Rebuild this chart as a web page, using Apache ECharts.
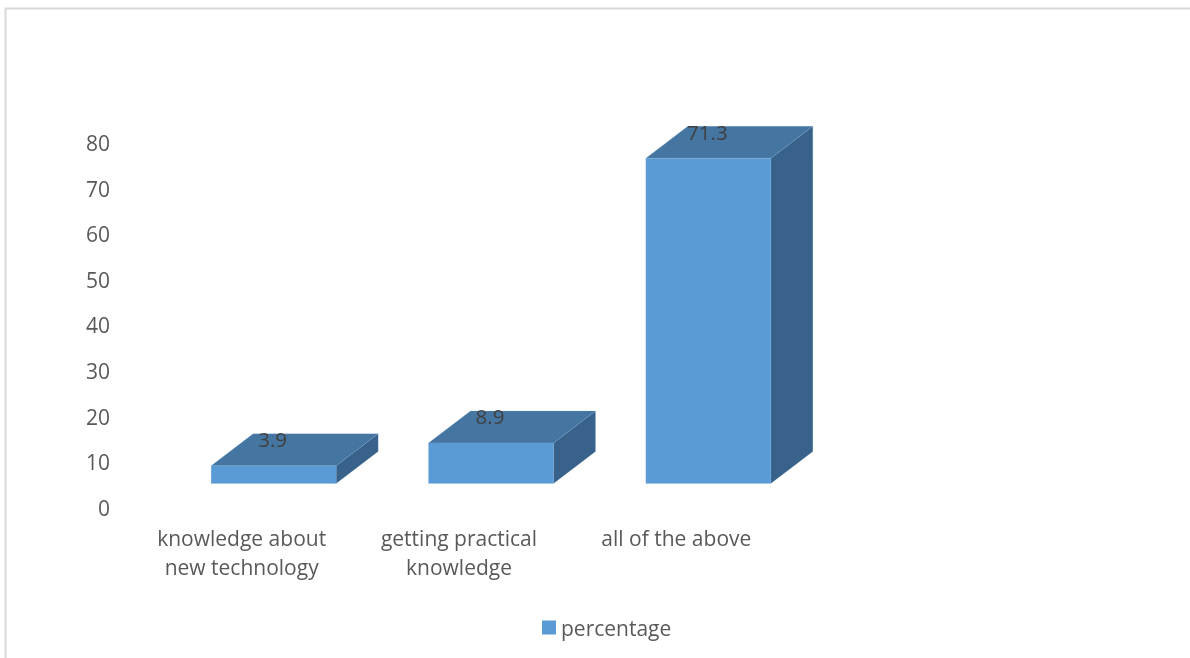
<!DOCTYPE html>
<html><head><meta charset="utf-8">
<style>html,body{margin:0;padding:0;background:#fff}#c{width:1190px;height:658px}</style>
<script src="https://cdn.jsdelivr.net/npm/echarts@6/dist/echarts.min.js"></script>
</head><body><div id="c"></div>
<script>
const categories = ['knowledge about\nnew technology', 'getting practical\nknowledge', 'all of the above'];
const percentage = [3.9, 8.9, 71.3];
const yTicks = {min: 0, max: 80, interval: 10};
const FONT = '"Open Sans", "Noto Sans", sans-serif';
const FRONT = '#5B9BD5', TOP = '#4575A1', SIDE = '#38628A', EDGE = '#7FB0DE';
const SHIFT_X = 32, SHIFT_Y = -26.5, DX = 42, DY = -32, BAR_W = 125;

function renderBar(params, api) {
  const i = api.value(0), v = api.value(1);
  const t = api.coord([i, v]), b = api.coord([i, 0]);
  const x0 = t[0] + SHIFT_X - BAR_W / 2, x1 = x0 + BAR_W;
  const yT = t[1] + SHIFT_Y, yB = b[1] + SHIFT_Y;
  const edge = {stroke: EDGE, lineWidth: 0.5, strokeOpacity: 0.35};
  return {type: 'group', children: [
    {type: 'polygon', shape: {points: [[x1, yT], [x1 + DX, yT + DY], [x1 + DX, yB + DY], [x1, yB]]},
      style: Object.assign({fill: SIDE}, edge)},
    {type: 'polygon', shape: {points: [[x0, yT], [x0 + DX, yT + DY], [x1 + DX, yT + DY], [x1, yT]]},
      style: Object.assign({fill: TOP}, edge)},
    {type: 'rect', shape: {x: x0, y: yT, width: BAR_W, height: yB - yT},
      style: Object.assign({fill: FRONT}, edge)},
    {type: 'text', x: (x0 + x1) / 2 - 1, y: yT - 24.5,
      style: {text: String(v), fill: '#404040', font: '20.5px ' + FONT, align: 'center', verticalAlign: 'middle'}}
  ]};
}

const chart = echarts.init(document.getElementById('c'));
chart.setOption({
  animation: false,
  backgroundColor: '#ffffff',
  grid: {left: 133, top: 145, width: 652, height: 365, containLabel: false},
  xAxis: {type: 'category', data: categories,
    axisLine: {show: false}, axisTick: {show: false}, splitLine: {show: false},
    axisLabel: {color: '#595959', fontFamily: FONT, fontSize: 21, lineHeight: 29, margin: 16, interval: 0, hideOverlap: false}},
  yAxis: {type: 'value', min: yTicks.min, max: yTicks.max, interval: yTicks.interval,
    axisLine: {show: false}, axisTick: {show: false}, splitLine: {show: false},
    axisLabel: {color: '#595959', fontFamily: FONT, fontSize: 21, margin: 23}},
  legend: {left: 537, top: 615, itemWidth: 14, itemHeight: 14, itemGap: 6,
    icon: 'rect', data: ['percentage'],
    formatter: '{a|{name}}',
    textStyle: {rich: {a: {color: '#595959', fontFamily: FONT, fontSize: 21, padding: [6, 0, 0, 0]}}}},
  series: [{type: 'custom', name: 'percentage', renderItem: renderBar,
    itemStyle: {color: FRONT}, clip: false,
    encode: {x: 0, y: 1},
    data: percentage.map((v, i) => [i, v])}],
  graphic: [{type: 'polyline', silent: true,
    shape: {points: [[5.5, 658], [5.5, 8.5], [1190, 8.5]]},
    style: {fill: 'none', stroke: '#D9D9D9', lineWidth: 2}}]
});
</script></body></html>
